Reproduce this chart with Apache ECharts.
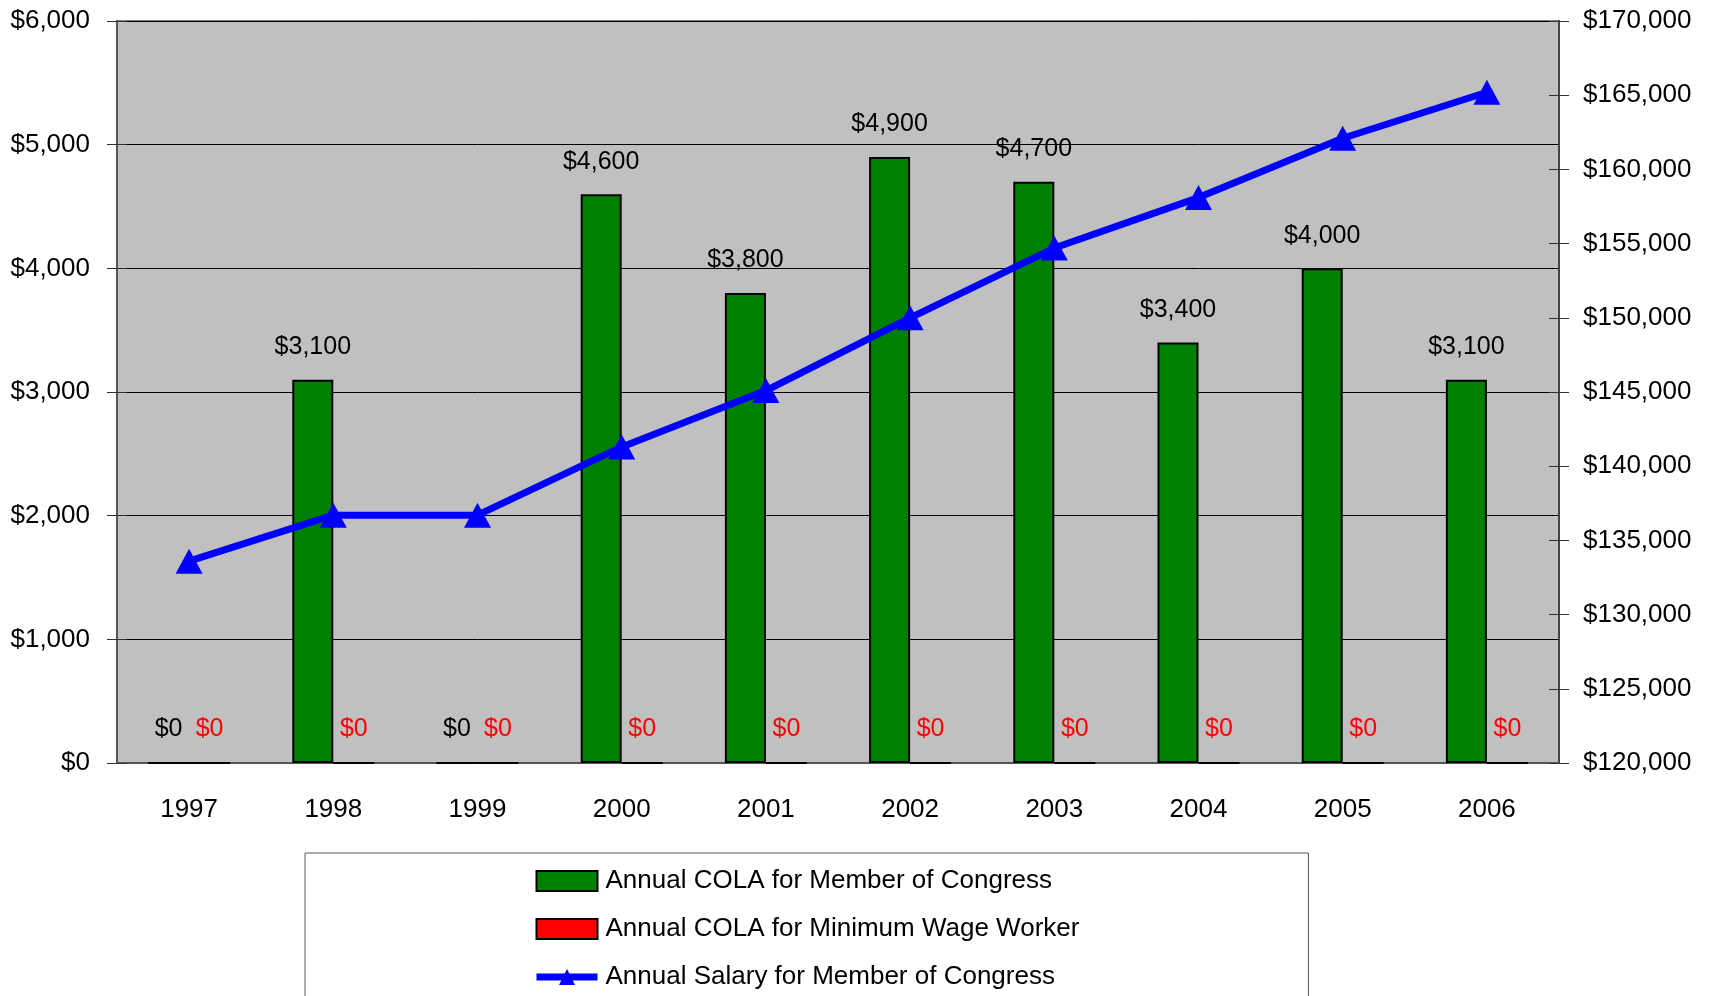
<!DOCTYPE html>
<html>
<head>
<meta charset="utf-8">
<script src="https://cdn.jsdelivr.net/npm/echarts@6/dist/echarts.min.js"></script>
<style>
  html, body { margin: 0; padding: 0; background: #fff; }
  #chart { width: 1714px; height: 996px; }
</style>
</head>
<body>
<div id="chart"></div>
<script>
// data
const years = ['1997', '1998', '1999', '2000', '2001', '2002', '2003', '2004', '2005', '2006']
const colaCongress = [0, 3100, 0, 4600, 3800, 4900, 4700, 3400, 4000, 3100]
const colaMinWage = [0, 0, 0, 0, 0, 0, 0, 0, 0, 0]
const salaryCongress = [133600, 136700, 136700, 141300, 145100, 150000, 154700, 158100, 162100, 165200]

const FONT = "'Liberation Sans', Arial, sans-serif"
const money = v => '$' + Number(v).toLocaleString('en-US')

const chart = echarts.init(document.getElementById('chart'))

// ticks cross the axes, so each axis gets a twin that draws the inner half
const tickStyle = { color: '#333', width: 1 }

chart.setOption({
  animation: false,
  backgroundColor: '#fff',
  textStyle: { fontFamily: FONT },
  grid: {
    left: 117, right: 155, top: 21, bottom: 233,
    outerBoundsMode: 'none',
    containLabel: false,
    show: true,
    backgroundColor: '#C0C0C0',
    borderColor: '#808080',
    borderWidth: 2
  },
  legend: {
    orient: 'vertical',
    left: 305,
    top: 853,
    height: 300,
    padding: [13, 229, 30, 228],
    itemWidth: 61,
    itemHeight: 20,
    itemGap: 18,
    borderColor: '#555',
    borderWidth: 1,
    backgroundColor: '#fff',
    textStyle: { fontFamily: FONT, fontSize: 26, color: '#000', lineHeight: 30, padding: [0, 0, 0, 3] },
    data: [
      { name: 'Annual COLA for Member of Congress', icon: 'rect' },
      { name: 'Annual COLA for Minimum Wage Worker', icon: 'rect' },
      { name: 'Annual Salary for Member of Congress', lineStyle: { width: 7, color: '#0000FF' } }
    ]
  },
  xAxis: [
    {
      type: 'category',
      data: years,
      axisLine: { lineStyle: { color: '#555', width: 2 } },
      axisTick: { length: 10, lineStyle: tickStyle },
      axisLabel: { color: '#000', fontSize: 26, fontFamily: FONT, margin: 34 }
    },
    {
      type: 'category',
      data: years,
      position: 'bottom',
      axisLine: { show: false },
      axisTick: { inside: true, length: 10, lineStyle: tickStyle },
      axisLabel: { show: false }
    }
  ],
  yAxis: [
    {
      type: 'value',
      min: 0, max: 6000, interval: 1000,
      position: 'left',
      axisLine: { show: true, lineStyle: { color: '#555', width: 2 } },
      axisTick: { show: true, length: 10, lineStyle: tickStyle },
      axisLabel: { color: '#000', fontSize: 26, fontFamily: FONT, margin: 27, formatter: money },
      splitLine: { lineStyle: { color: '#000', width: 1 } }
    },
    {
      type: 'value',
      min: 120000, max: 170000, interval: 5000,
      position: 'right',
      axisLine: { show: true, lineStyle: { color: '#444', width: 2 } },
      axisTick: { show: true, length: 10, lineStyle: tickStyle },
      axisLabel: { color: '#000', fontSize: 26, fontFamily: FONT, margin: 24, formatter: money },
      splitLine: { show: false }
    },
    {
      type: 'value',
      min: 0, max: 6000, interval: 1000,
      position: 'left',
      axisLine: { show: false },
      axisTick: { show: true, inside: true, length: 10, lineStyle: tickStyle },
      axisLabel: { show: false },
      splitLine: { show: false }
    },
    {
      type: 'value',
      min: 120000, max: 170000, interval: 5000,
      position: 'right',
      axisLine: { show: false },
      axisTick: { show: true, inside: true, length: 10, lineStyle: tickStyle },
      axisLabel: { show: false },
      splitLine: { show: false }
    }
  ],
  series: [
    {
      name: 'Annual COLA for Member of Congress',
      type: 'bar',
      data: colaCongress,
      barWidth: 41,
      barGap: '0%',
      itemStyle: { color: '#008000', borderColor: '#000', borderWidth: 2 },
      label: {
        show: true, position: 'top', distance: 20,
        color: '#000', fontSize: 25, fontFamily: FONT,
        formatter: p => money(p.value)
      }
    },
    {
      name: 'Annual COLA for Minimum Wage Worker',
      type: 'bar',
      data: colaMinWage,
      barWidth: 41,
      itemStyle: { color: '#FF0000', borderColor: '#000', borderWidth: 2 },
      label: {
        show: true, position: 'top', distance: 20,
        color: '#FF0000', fontSize: 25, fontFamily: FONT,
        formatter: p => money(p.value)
      }
    },
    {
      name: 'Annual Salary for Member of Congress',
      type: 'line',
      yAxisIndex: 1,
      data: salaryCongress,
      z: 5,
      symbol: 'triangle',
      symbolSize: [27, 25],
      lineStyle: { color: '#0000FF', width: 7 },
      itemStyle: { color: '#0000FF' }
    }
  ]
})
</script>
</body>
</html>
